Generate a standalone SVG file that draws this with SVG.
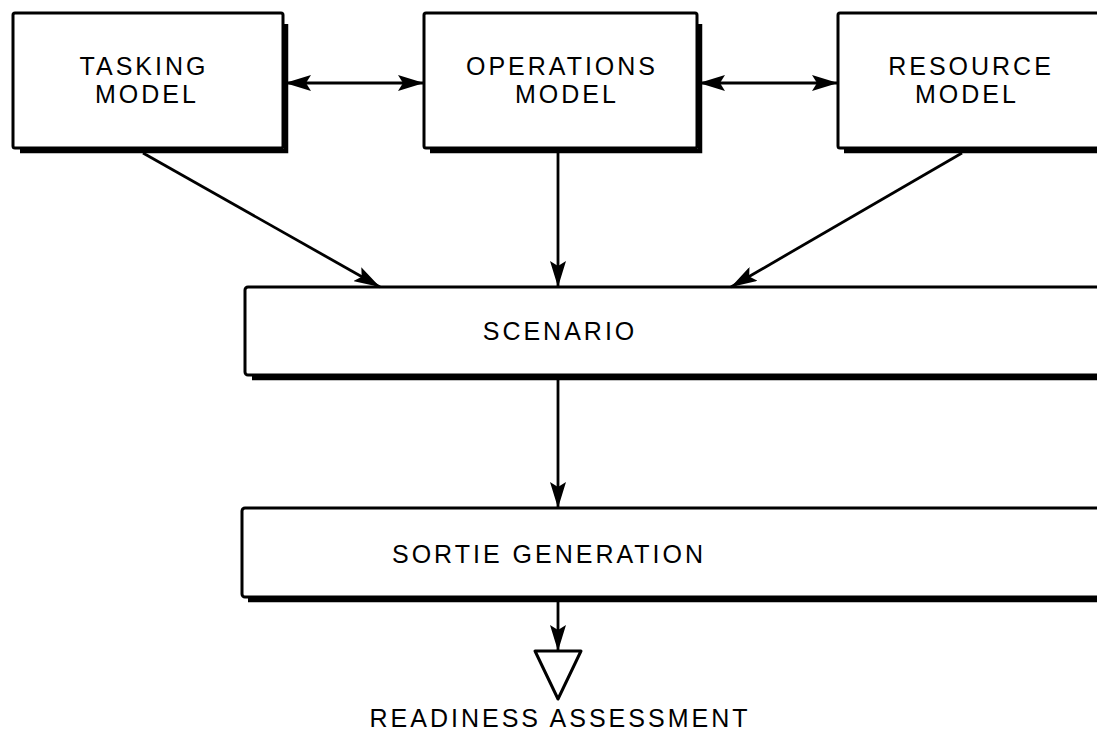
<svg xmlns="http://www.w3.org/2000/svg" width="1097" height="740" viewBox="0 0 1097 740">
  <style>
    .box { fill: #ffffff; stroke: #000000; stroke-width: 3; }
    .shadow { fill: none; stroke: #000000; stroke-width: 4.5; stroke-linecap: butt; }
    .lbl { font-family: "Liberation Sans", Arial, sans-serif; font-size: 25px; fill: #000000; text-anchor: middle; letter-spacing: 3px; }
    .link { fill: none; stroke: #000000; stroke-width: 2.8; }
    .tri { fill: #ffffff; stroke: #000000; stroke-width: 3; stroke-linejoin: round; }
  </style>
  <defs>
    <marker id="head" viewBox="0 0 26 16" refX="26" refY="8" markerWidth="26" markerHeight="16" markerUnits="userSpaceOnUse" orient="auto-start-reverse">
      <path d="M0,0 L26,8 L0,16 L5,8 Z" fill="#000000"/>
    </marker>
  </defs>
  <rect width="1097" height="740" fill="#ffffff"/>

  <!-- top row: models -->
  <g id="tasking-model">
    <path class="shadow" d="M286,24 V151 H20"/>
    <rect class="box" x="13" y="13" width="270" height="135" rx="2"/>
    <text class="lbl" x="144" y="75">TASKING</text>
    <text class="lbl" x="147" y="103">MODEL</text>
  </g>
  <g id="operations-model">
    <path class="shadow" d="M700,24 V151 H430"/>
    <rect class="box" x="424" y="13" width="273" height="135" rx="2"/>
    <text class="lbl" x="562" y="75">OPERATIONS</text>
    <text class="lbl" x="567" y="103">MODEL</text>
  </g>
  <g id="resource-model">
    <path class="shadow" d="M1110,151 H844"/>
    <rect class="box" x="838" y="13" width="280" height="135" rx="2"/>
    <text class="lbl" x="971" y="75">RESOURCE</text>
    <text class="lbl" x="967" y="103">MODEL</text>
  </g>

  <!-- middle: scenario -->
  <g id="scenario">
    <path class="shadow" d="M1110,378 H252"/>
    <rect class="box" x="245" y="287" width="870" height="88" rx="3"/>
    <text class="lbl" x="560" y="340">SCENARIO</text>
  </g>

  <!-- sortie generation -->
  <g id="sortie-generation">
    <path class="shadow" d="M1110,600 H248"/>
    <rect class="box" x="242" y="508" width="873" height="89" rx="3"/>
    <text class="lbl" x="549" y="563">SORTIE GENERATION</text>
  </g>

  <!-- terminal: readiness assessment -->
  <g id="readiness-assessment">
    <path class="tri" d="M535,651 L581,651 L558,699 Z"/>
    <text class="lbl" x="560" y="727">READINESS ASSESSMENT</text>
  </g>

  <!-- connectors -->
  <g id="connectors">
    <line class="link" x1="285" y1="83" x2="424" y2="83" marker-start="url(#head)" marker-end="url(#head)"/>
    <line class="link" x1="699" y1="83" x2="838" y2="83" marker-start="url(#head)" marker-end="url(#head)"/>
    <line class="link" x1="143" y1="153" x2="380" y2="287" marker-end="url(#head)"/>
    <line class="link" x1="558" y1="153" x2="558" y2="287" marker-end="url(#head)"/>
    <line class="link" x1="962" y1="153" x2="731" y2="287" marker-end="url(#head)"/>
    <line class="link" x1="558" y1="380" x2="558" y2="508" marker-end="url(#head)"/>
    <line class="link" x1="558" y1="602" x2="558" y2="651" marker-end="url(#head)"/>
  </g>
</svg>
